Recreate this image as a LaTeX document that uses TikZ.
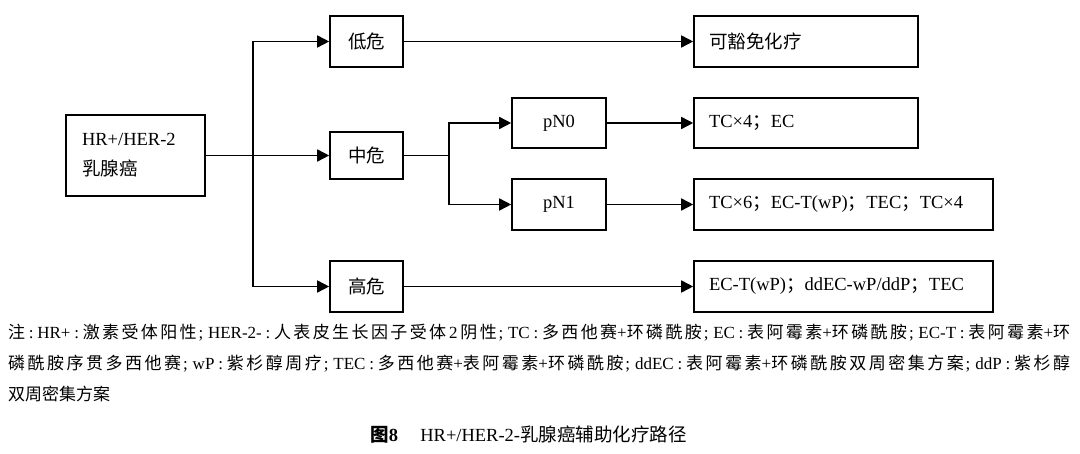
\documentclass[tikz,border=0pt]{standalone}
\usepackage{fontspec}
\setmainfont{Liberation Serif}
\newfontfamily\cjk{Noto Sans CJK SC}
\newcommand\zh[1]{{\cjk #1}}
\newcommand\cl{\hspace{0.1em plus 0.2em}:\hspace{0.1em plus 0.2em}}
\newcommand\sm{\hspace{0.05em plus 0.1em};\hspace{0.1em plus 0.3em}}
\usetikzlibrary{arrows.meta}
\tikzset{
  box/.style={draw, line width=1.6pt, inner sep=0pt, font=\fontsize{18.5}{30}\selectfont},
  cbox/.style={box, minimum width=#1, minimum height=51pt},
  rbox/.style={box, align=left, inner xsep=15pt, text width=#1, minimum height=51pt},
  conn/.style={line width=1.6pt},
  arr/.style={conn, -{Triangle[length=12pt,width=12pt]}},
}
\begin{document}
\begin{tikzpicture}[x=1pt,y=-1pt]
\useasboundingbox (0,0) rectangle (1080,454);
% boxes
\node[box, align=left, inner xsep=16pt, text width=107pt, minimum height=81pt] (hr) at (135.5,155.5) {HR+/HER-2\\\zh{乳腺癌}};
\node[cbox=73pt] (low) at (366.5,41.5) {\zh{低危}};
\node[cbox=73pt, minimum height=47pt] (mid) at (366.5,155.5) {\zh{中危}};
\node[cbox=73pt] (high) at (366.5,286.5) {\zh{高危}};
\node[cbox=94pt, minimum height=50pt] (pn0) at (559,123) {pN0};
\node[cbox=94pt] (pn1) at (559,204.5) {pN1};
\node[rbox=194pt] (r1) at (806,41.5) {\zh{可豁免化疗}};
\node[rbox=194pt, minimum height=50pt] (r2) at (806,123) {TC×4\zh{；}EC};
\node[rbox=269pt] (r3) at (843.5,204.5) {TC×6\zh{；}EC-T(wP)\zh{；}TEC\zh{；}TC×4};
\node[rbox=269pt] (r4) at (843.5,286.5) {EC-T(wP)\zh{；}ddEC-wP/ddP\zh{；}TEC};
% connectors
\coordinate (j) at (253,155.5);
\coordinate (k) at (449,155.5);
\draw[conn] (hr.east) -- (j);
\draw[arr] (j) -- (mid.west);
\draw[arr] (j) |- (low.west);
\draw[arr] (j) |- (high.west);
\draw[conn] (mid.east) -- (k);
\draw[arr] (k) |- (pn0.west);
\draw[arr] (k) |- (pn1.west);
\draw[arr] (low.east) -- (r1.west);
\draw[arr] (pn0.east) -- (r2.west);
\draw[arr] (pn1.east) -- (r3.west);
\draw[arr] (high.east) -- (r4.west);
% note
\node[anchor=north west, inner sep=0pt, text width=1062pt, align=justify, font=\fontsize{17}{31}\selectfont] (note) at (8,324) {\XeTeXlinebreaklocale "zh"\XeTeXlinebreakskip=0pt plus 4pt%
\zh{注}\cl HR+\cl\zh{激素受体阳性}\sm HER-2-\cl\zh{人表皮生长因子受体}\,2\,\zh{阴性}\sm TC\cl\zh{多西他赛}+\zh{环磷酰胺}\sm EC\cl\zh{表阿霉素}+\zh{环磷酰胺}\sm EC-T\cl\zh{表阿霉素}+\zh{环}\linebreak
\zh{磷酰胺序贯多西他赛}\sm wP\cl\zh{紫杉醇周疗}\sm TEC\cl\zh{多西他赛}+\zh{表阿霉素}+\zh{环磷酰胺}\sm ddEC\cl\zh{表阿霉素}+\zh{环磷酰胺双周密集方案}\sm ddP\cl\zh{紫杉醇}\linebreak
\zh{双周密集方案}};
% caption
\node[inner sep=0pt, font=\fontsize{18.5}{20}\selectfont] (cap) at (528.5,435) {{\cjk\bfseries 图}\textbf{8}\hspace{1.2em}HR+/HER-2-\zh{乳腺癌辅助化疗路径}};
\end{tikzpicture}
\end{document}
